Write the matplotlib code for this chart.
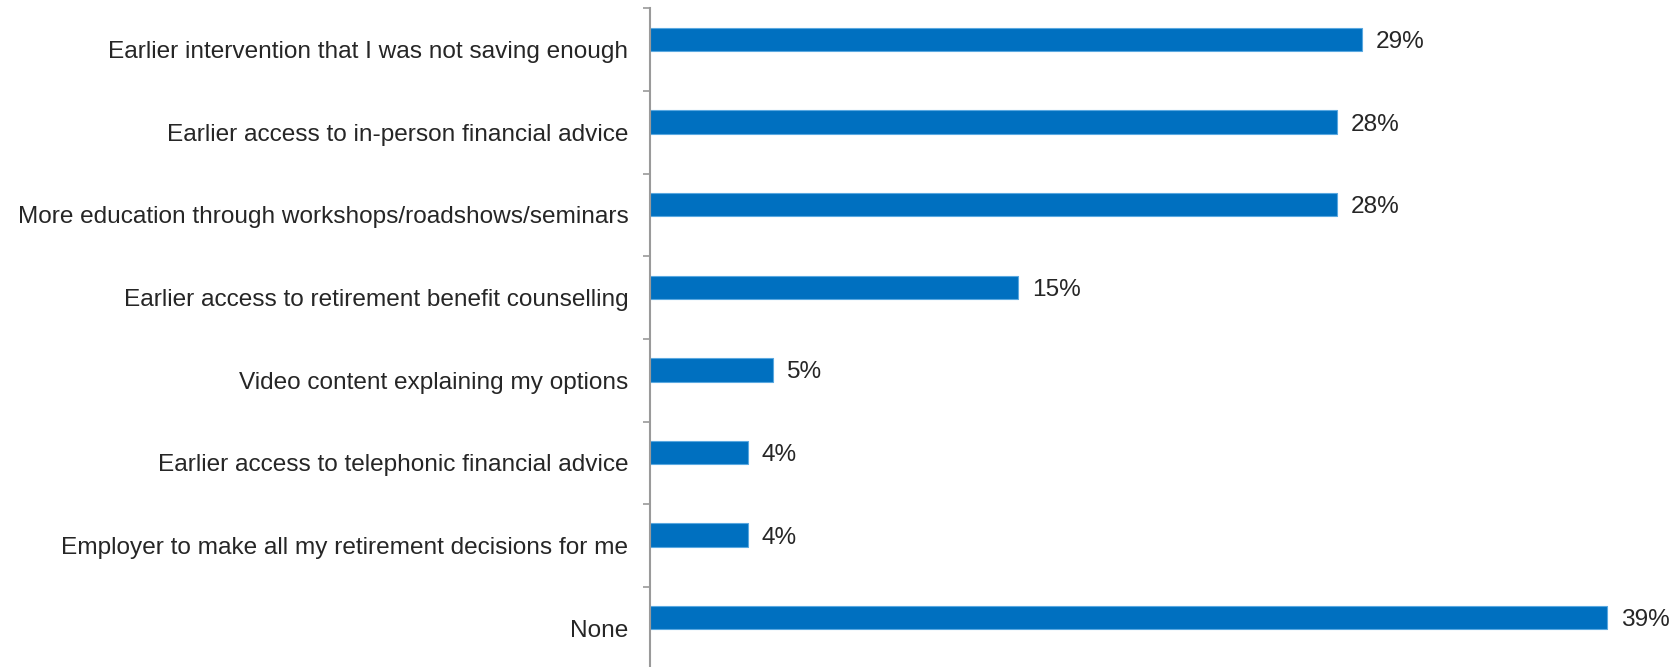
import numpy as np
import matplotlib.pyplot as plt

plt.rcParams['font.family'] = ['Liberation Sans', 'DejaVu Sans']

categories = [
    "Earlier intervention that I was not saving enough",
    "Earlier access to in-person financial advice",
    "More education through workshops/roadshows/seminars",
    "Earlier access to retirement benefit counselling",
    "Video content explaining my options",
    "Earlier access to telephonic financial advice",
    "Employer to make all my retirement decisions for me",
    "None",
]
values = [29, 28, 28, 15, 5, 4, 4, 39]

bar_color = "#0070C0"
text_color = "#262626"
axis_color = "#9a9a9a"

fig = plt.figure(figsize=(16.76, 6.67), dpi=100)
ax = fig.add_axes([0.3878, -0.0035, 0.6122, 0.9908])

y = np.arange(len(categories))
# bars sit a little above the middle of each category band
bar_y = y - 0.125
ax.barh(bar_y, values, height=0.285, color=bar_color,
        edgecolor="#5aa8e0", linewidth=0.8)

for yi, v in zip(bar_y, values):
    ax.text(v + 0.55, yi, f"{v}%", va="center_baseline", ha="left",
            fontsize=17.6, color=text_color)

ax.set_xlim(0, 41.8)
ax.set_ylim(len(categories) - 0.5, -0.5)

# labels on major ticks, separators on minor ticks
ax.set_yticks(y)
ax.set_yticklabels(categories, fontsize=17.6, color=text_color)
ax.tick_params(axis="y", which="major", length=0, pad=15.5)
ax.set_yticks(np.arange(-0.5, len(categories)), minor=True)
ax.tick_params(axis="y", which="minor", length=5, width=1.2,
               color=axis_color, direction="out")

ax.set_xticks([])
for side in ["top", "right", "bottom"]:
    ax.spines[side].set_visible(False)
ax.spines["left"].set_color(axis_color)
ax.spines["left"].set_linewidth(1.5)

fig.savefig("out.png", dpi=100)
